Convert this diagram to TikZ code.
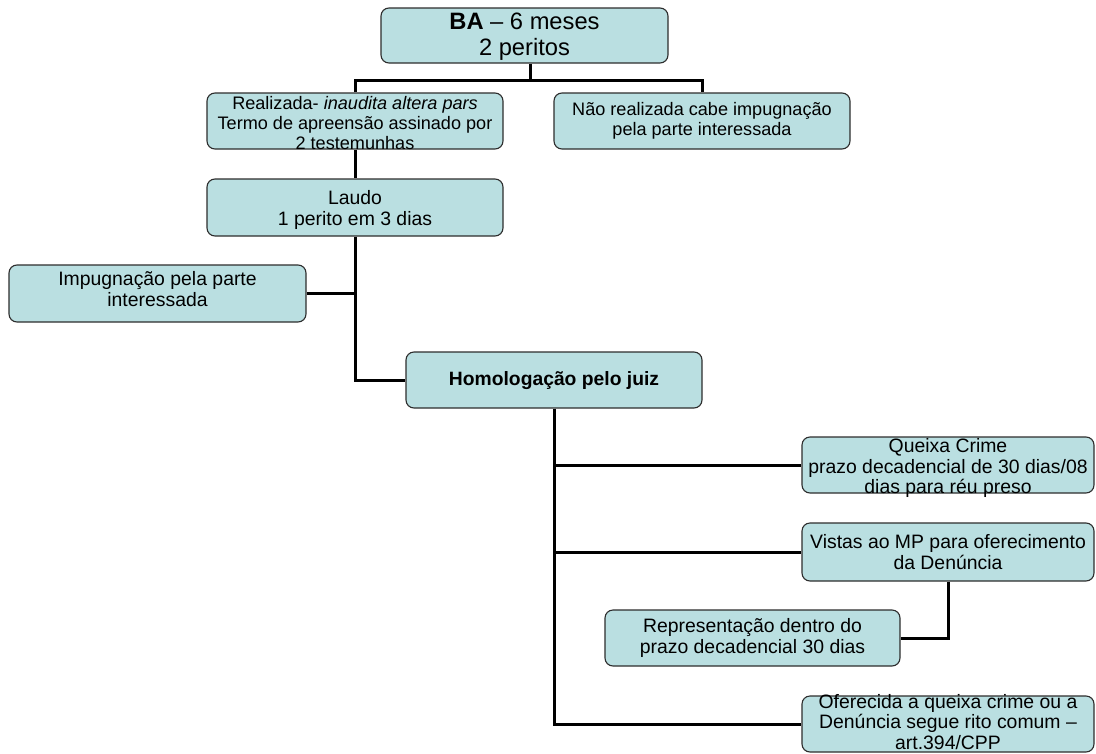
\documentclass[tikz,border=0pt]{standalone}
\usepackage{fontspec}
\setmainfont{Liberation Sans}
\definecolor{boxfill}{RGB}{186,223,225}
\definecolor{boxline}{RGB}{45,45,45}
\newcommand\txtBig{\fontsize{23.7}{26}\selectfont}
\newcommand\txtMid{\fontsize{18.1}{19.6}\selectfont}
\newcommand\txtReg{\fontsize{19.4}{20.8}\selectfont}
\newcommand\txtHom{\fontsize{19.3}{20.8}\selectfont}
\tikzset{
  box/.style={draw=boxline, fill=boxfill, line width=1.1pt, rounded corners=8pt,
    minimum width=296pt, minimum height=56pt, inner sep=0pt},
  txt/.style={align=center, inner sep=0pt, text=black, font=\txtReg},
  conn/.style={draw=black, line width=3pt}
}
\begin{document}
\begin{tikzpicture}[x=1pt,y=-1pt]
\useasboundingbox (0,0) rectangle (1096,753);
% boxes
\node[box, minimum width=287pt, minimum height=55pt] (ba) at (524.5,35.5) {};
\node[box] (real) at (355,121) {};
\node[box] (nao) at (702,121) {};
\node[box, minimum height=57pt] (laudo) at (355,207.5) {};
\node[box, minimum width=297pt, minimum height=57pt] (imp) at (157.5,293.5) {};
\node[box] (homo) at (554,380) {};
\node[box, minimum width=292pt] (queixa) at (948,465) {};
\node[box, minimum width=292pt, minimum height=58pt] (vistas) at (948,552) {};
\node[box, minimum width=295pt] (rep) at (752.5,638) {};
\node[box, minimum width=292pt] (ofer) at (948,724) {};
% texts
\node[txt, font=\txtBig] (bat) at (524.5,37) {\textbf{BA} -- 6 meses\\2 peritos};
\node[txt, font=\txtMid] (realt) at (355,123) {Realizada- \textit{inaudita altera pars}\\Termo de apreensão assinado por\\2 testemunhas};
\node[txt, font=\txtMid] (naot) at (702,121) {Não realizada cabe impugnação\\pela parte interessada};
\node[txt] (laudot) at (355,210) {Laudo\\1 perito em 3 dias};
\node[txt] (impt) at (157.5,289) {Impugnação pela parte\\interessada};
\node[txt, font=\txtHom\bfseries] (homot) at (554,381) {Homologação pelo juiz};
\node[txt] (queixat) at (948,468) {Queixa Crime\\prazo decadencial de 30 dias/08\\dias para réu preso};
\node[txt] (vistast) at (948,552) {Vistas ao MP para oferecimento\\da Denúncia};
\node[txt] (rept) at (752.5,638) {Representação dentro do\\prazo decadencial 30 dias};
\node[txt] (ofert) at (948,722) {Oferecida a queixa crime ou a\\Denúncia segue rito comum --\\art.394/CPP};
% connectors
\coordinate (j1) at (530,80);
\draw[conn] (ba.south -| j1) -- (j1);
\draw[conn] (real.north) |- (j1) -| (nao.north);
\draw[conn] (real.south) -- (laudo.north);
\draw[conn] (laudo.south) |- (homo.west);
\draw[conn] (imp.east) -- (imp.east -| laudo.south);
\draw[conn] (homo.south) |- (ofer.west);
\draw[conn] (homo.south |- queixa.west) -- (queixa.west);
\draw[conn] (homo.south |- vistas.west) -- (vistas.west);
\draw[conn] (vistas.south) |- (rep.east);
\end{tikzpicture}
\end{document}
